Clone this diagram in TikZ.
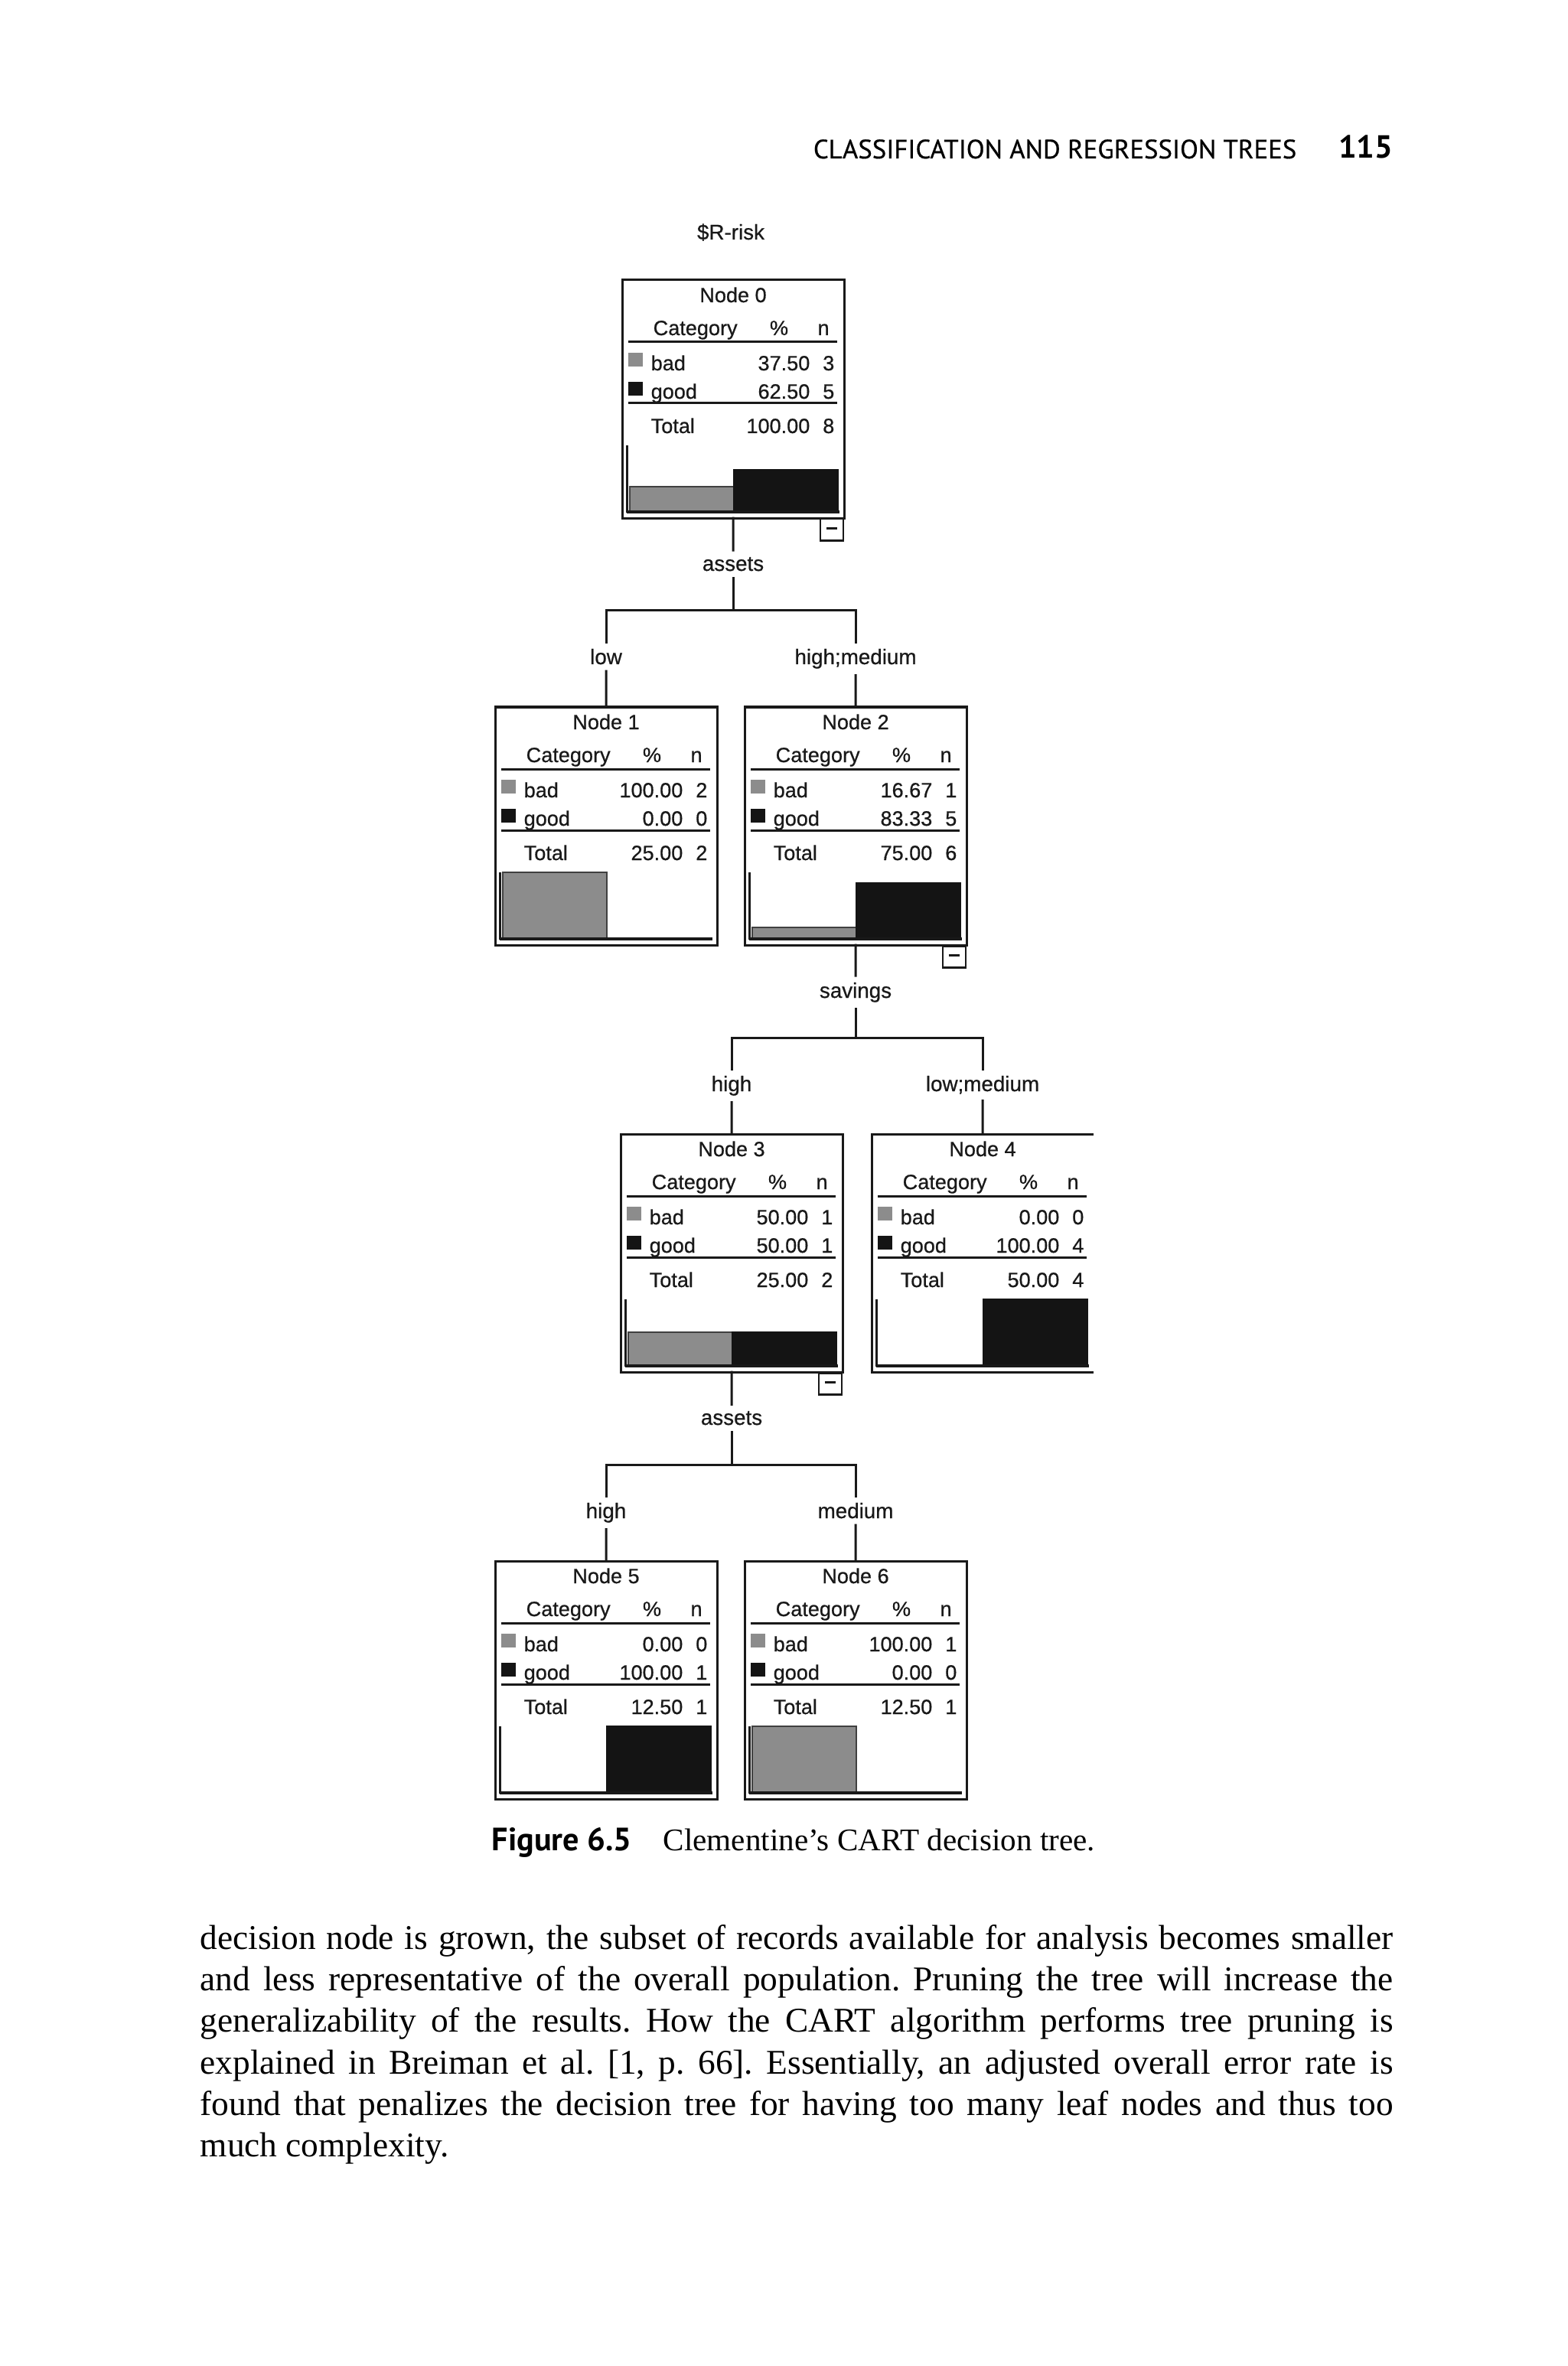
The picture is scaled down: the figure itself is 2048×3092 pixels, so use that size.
\documentclass[tikz,border=0pt]{standalone}
\usepackage{fontspec}
\usepackage{graphicx}
\setmainfont{Liberation Serif}
\newfontfamily\treefont[FakeBold=0.6]{Liberation Sans}
\newfontfamily\hdfont{PT Sans}
\newfontfamily\hdfontb[FakeBold=0.5]{PT Sans}
\usetikzlibrary{calc}
\frenchspacing

\tikzset{
  ink/.style={draw=black!90, line width=0.03cm},
  boxst/.style={ink, minimum width=2.9cm, minimum height=3.11cm, inner sep=0pt, outer sep=0pt},
  tt/.style={font=\treefont\fontsize{7.7}{9}\selectfont, inner sep=0pt, text=black!90},
  lab/.style={font=\treefont\fontsize{7.9}{9}\selectfont, inner sep=2.3pt, text=black!90},
  rulest/.style={draw=black!90, line width=0.03cm},
  conn/.style={draw=black!90, line width=0.03cm, line cap=rect},
  badfill/.style={fill=black!45, draw=black!75, line width=0.02cm},
  goodfill/.style={fill=black!92, draw=black!92, line width=0.02cm},
  bodyline/.style={font=\fontsize{12.9}{15.25}\selectfont, inner sep=0pt, anchor=base west},
  minusbox/.style={draw=black!90, line width=0.025cm, fill=white, minimum width=0.3cm, minimum height=0.28cm, inner sep=0pt, anchor=north east}
}

% #1 box style, #2 name, #3 L, #4 T, #5 number, #6 bad pct, #7 good pct
\newcommand\cartbox[7][]{%
  \node[boxst,#1, anchor=north west] (#2) at (#3,#4) {};
  \node[tt, anchor=base] (#2-title) at (#3+145,#4+29) {Node #5};
  \node[tt, anchor=base west] (#2-cat) at (#3+40,#4+72) {Category};
  \node[tt, anchor=base] (#2-pc) at (#3+205,#4+72) {\%};
  \node[tt, anchor=base] (#2-nn) at (#3+263,#4+72) {n};
  \draw[rulest] (#3+8,#4+81) -- (#3+281,#4+81);
  \draw[rulest] (#3+8,#4+161) -- (#3+281,#4+161);
  \fill[black!45] (#3+8,#4+95) rectangle (#3+27,#4+113);
  \fill[black!92] (#3+8,#4+133) rectangle (#3+27,#4+151);
  \ifdim #6pt>0pt \draw[badfill] (#3+10,#4+302) rectangle (#3+146,#4+302-0.86*#6);\fi
  \ifdim #7pt>0pt \draw[goodfill] (#3+146,#4+302) rectangle (#3+282,#4+302-0.86*#7);\fi
  \draw[ink] (#3+6,#4+216) -- (#3+6,#4+304);
  \draw[draw=black!90, line width=0.04cm] (#3+6,#4+303) -- (#3+284,#4+303);
}
% #1 name, #2 L, #3 T, #4 id, #5 y, #6 label, #7 pct, #8 n
\newcommand\cartrow[8]{%
  \node[tt, anchor=base west] (#1-#4l) at (#2+37,#3+#5) {#6};
  \node[tt, anchor=base east] (#1-#4p) at (#2+246,#3+#5) {#7};
  \node[tt, anchor=base east] (#1-#4n) at (#2+278,#3+#5) {#8};
}
\newcommand\cartminus[3]{%
  \node[minusbox] (#1-m) at (#2+290,#3+311) {};
  \draw[line width=0.03cm, black!90] ($(#1-m.center)+(-7,-2)$) -- ($(#1-m.center)+(7,-2)$);
}

\begin{document}
\begin{tikzpicture}[x=0.01cm,y=-0.01cm]
\useasboundingbox (0,0) rectangle (2048,3092);
\fill[white] (0,0) rectangle (2048,3092);

% running head
\node[anchor=base east, inner sep=0pt] (hdr) at (1695,207) {\resizebox{6.31cm}{!}{\hdfontb CLASSIFICATION AND REGRESSION TREES}};
\node[anchor=base east, inner sep=0pt] (pgno) at (1821,207) {\resizebox{0.71cm}{!}{\hdfont\bfseries 115}};

% target
\node[lab, anchor=base, inner sep=0pt] (target) at (955,313) {\$R-risk};

% nodes
\cartbox{n0}{813}{366}{0}{37.50}{62.50}
\cartrow{n0}{813}{366}{a}{118}{bad}{37.50}{3}
\cartrow{n0}{813}{366}{b}{155}{good}{62.50}{5}
\cartrow{n0}{813}{366}{c}{200}{Total}{100.00}{8}
\cartminus{n0}{813}{366}

\cartbox{n1}{647}{924}{1}{100.00}{0.00}
\cartrow{n1}{647}{924}{a}{118}{bad}{100.00}{2}
\cartrow{n1}{647}{924}{b}{155}{good}{0.00}{0}
\cartrow{n1}{647}{924}{c}{200}{Total}{25.00}{2}

\cartbox{n2}{973}{924}{2}{16.67}{83.33}
\cartrow{n2}{973}{924}{a}{118}{bad}{16.67}{1}
\cartrow{n2}{973}{924}{b}{155}{good}{83.33}{5}
\cartrow{n2}{973}{924}{c}{200}{Total}{75.00}{6}
\cartminus{n2}{973}{924}

\cartbox{n3}{811}{1482}{3}{50.00}{50.00}
\cartrow{n3}{811}{1482}{a}{118}{bad}{50.00}{1}
\cartrow{n3}{811}{1482}{b}{155}{good}{50.00}{1}
\cartrow{n3}{811}{1482}{c}{200}{Total}{25.00}{2}
\cartminus{n3}{811}{1482}

\cartbox[draw=none]{n4}{1139}{1482}{4}{0.00}{100.00}
\draw[ink] (n4.north east) -- (n4.north west) -- (n4.south west) -- (n4.south east);
\cartrow{n4}{1139}{1482}{a}{118}{bad}{0.00}{0}
\cartrow{n4}{1139}{1482}{b}{155}{good}{100.00}{4}
\cartrow{n4}{1139}{1482}{c}{200}{Total}{50.00}{4}

\cartbox{n5}{647}{2040}{5}{0.00}{100.00}
\cartrow{n5}{647}{2040}{a}{118}{bad}{0.00}{0}
\cartrow{n5}{647}{2040}{b}{155}{good}{100.00}{1}
\cartrow{n5}{647}{2040}{c}{200}{Total}{12.50}{1}

\cartbox{n6}{973}{2040}{6}{100.00}{0.00}
\cartrow{n6}{973}{2040}{a}{118}{bad}{100.00}{1}
\cartrow{n6}{973}{2040}{b}{155}{good}{0.00}{0}
\cartrow{n6}{973}{2040}{c}{200}{Total}{12.50}{1}

% split and branch labels
\node[lab, anchor=base] (s0) at (958,746) {assets};
\node[lab, anchor=base] (e1) at (792,868) {low};
\node[lab, anchor=base] (e2) at (1118,868) {high;medium};
\node[lab, anchor=base] (s1) at (1118,1304) {savings};
\node[lab, anchor=base] (e3) at (956,1426) {high};
\node[lab, anchor=base] (e4) at (1284,1426) {low;medium};
\node[lab, anchor=base] (s2) at (956,1862) {assets};
\node[lab, anchor=base] (e5) at (792,1984) {high};
\node[lab, anchor=base] (e6) at (1118,1984) {medium};

\coordinate (j0) at (958,798);
\coordinate (j1) at (1118,1356);
\coordinate (j2) at (956,1914);

% connectors
\draw[conn] (n0.south) -- (s0.north);
\draw[conn] (s0.south) -- (j0);
\draw[conn] (e1.north) |- (j0) -| (e2.north);
\draw[conn] (e1.south) -- (n1.north);
\draw[conn] (e2.south) -- (n2.north);

\draw[conn] (n2.south) -- (s1.north);
\draw[conn] (s1.south) -- (j1);
\draw[conn] (e3.north) |- (j1) -| (e4.north);
\draw[conn] (e3.south) -- (n3.north);
\draw[conn] (e4.south) -- (n4.north);

\draw[conn] (n3.south) -- (s2.north);
\draw[conn] (s2.south) -- (j2);
\draw[conn] (e5.north) |- (j2) -| (e6.north);
\draw[conn] (e5.south) -- (n5.north);
\draw[conn] (e6.south) -- (n6.north);

% caption
\node[anchor=base west, inner sep=0pt] (figlab) at (642,2418) {\resizebox{1.83cm}{!}{\hdfont\bfseries Figure 6.5}};
\node[anchor=base west, inner sep=0pt, font=\fontsize{11.7}{14}\selectfont] (figtxt) at (866,2418) {Clementine’s CART decision tree.};

% body text
\node[bodyline] (b1) at (261,2547) {\hbox to 15.58cm{decision node is grown, the subset of records available for analysis becomes smaller}};
\node[bodyline] (b2) at (261,2601) {\hbox to 15.58cm{and less representative of the overall population. Pruning the tree will increase the}};
\node[bodyline] (b3) at (261,2655) {\hbox to 15.58cm{generalizability of the results. How the CART algorithm performs tree pruning is}};
\node[bodyline] (b4) at (261,2710) {\hbox to 15.58cm{explained in Breiman et al. [1, p. 66]. Essentially, an adjusted overall error rate is}};
\node[bodyline] (b5) at (261,2764) {\hbox to 15.58cm{found that penalizes the decision tree for having too many leaf nodes and thus too}};
\node[bodyline] (b6) at (261,2818) {much complexity.};
\end{tikzpicture}
\end{document}
